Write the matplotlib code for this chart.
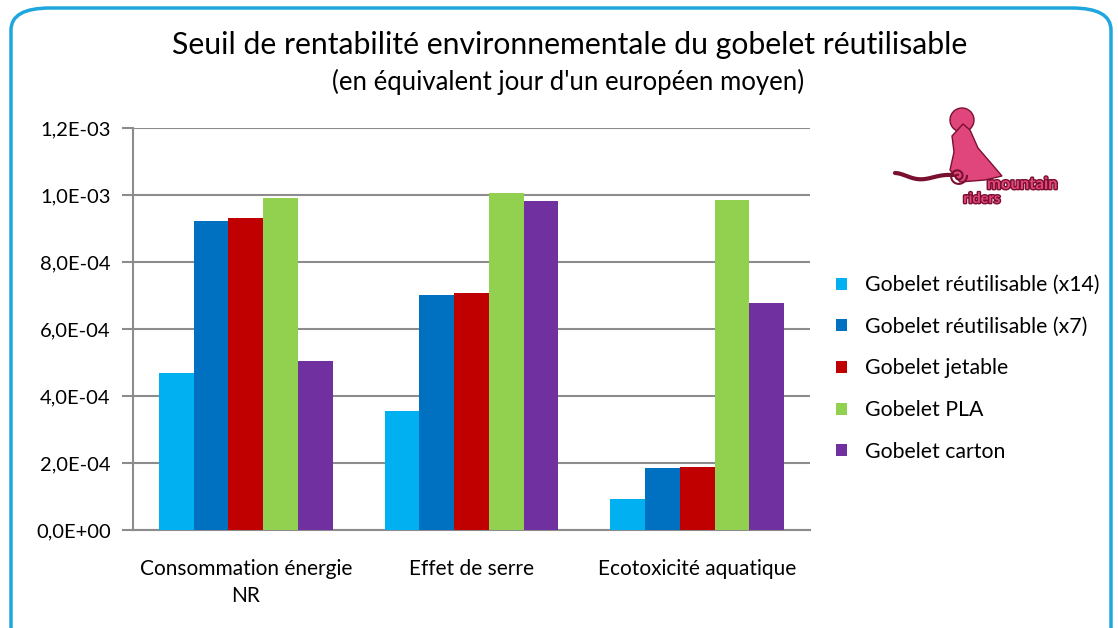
import matplotlib
matplotlib.use('Agg')
import matplotlib.pyplot as plt
import matplotlib.patheffects as pe
from matplotlib.patches import FancyBboxPatch, Circle, Polygon
from matplotlib.ticker import FuncFormatter
import numpy as np

# ── DATA ──────────────────────────────────────────────────────────────────────
categories = ["Consommation énergie\nNR", "Effet de serre", "Ecotoxicité aquatique"]
series_names = ["Gobelet réutilisable (x14)", "Gobelet réutilisable (x7)",
                "Gobelet jetable", "Gobelet PLA", "Gobelet carton"]
reutil_x14 = [4.70e-4, 3.55e-4, 0.93e-4]
reutil_x7 = [9.22e-4, 7.01e-4, 1.84e-4]
jetable = [9.32e-4, 7.06e-4, 1.88e-4]
pla = [9.90e-4, 10.07e-4, 9.85e-4]
carton = [5.03e-4, 9.83e-4, 6.79e-4]
colors = ['#00b0f0', '#0070c0', '#c00000', '#92d050', '#7030a0']

plt.rcParams['font.family'] = ['Lato', 'DejaVu Sans']

W, H = 1118, 628
fig = plt.figure(figsize=(W / 100, H / 100), dpi=100)

# rounded blue frame (bottom edge runs off the picture)
frame = FancyBboxPatch((11 / W, -30 / H), (1100 / W), (650 / H),
                       boxstyle="round,pad=0,rounding_size=0.035",
                       transform=fig.transFigure, fill=False,
                       edgecolor='#1ea6df', linewidth=2.5)
fig.patches.append(frame)

ax = fig.add_axes([133 / W, 1 - 530 / H, (810 - 133) / W, (530 - 128) / H])

all_series = [reutil_x14, reutil_x7, jetable, pla, carton]
x = np.arange(len(categories))
bw = 0.154
for i, (vals, name, c) in enumerate(zip(all_series, series_names, colors)):
    ax.bar(x + (i - 2) * bw, vals, width=bw, color=c, label=name, zorder=3)

ax.set_xlim(-0.5, 2.5)
ax.set_ylim(0, 1.2e-3)
ax.set_yticks(np.arange(0, 1.21e-3, 0.2e-3))
ax.yaxis.set_major_formatter(FuncFormatter(
    lambda v, p: f"{v:.1E}".replace('.', ',')))
ax.grid(axis='y', color='#8c8c8c', linewidth=1.5, zorder=0)
for s in ['top', 'right']:
    ax.spines[s].set_visible(False)
for s in ['left', 'bottom']:
    ax.spines[s].set_color('#8c8c8c')
    ax.spines[s].set_linewidth(1.5)
ax.tick_params(axis='y', length=8, width=1.5, color='#8c8c8c',
               labelsize=14.5, pad=8)
ax.tick_params(axis='x', length=0, labelsize=15, pad=21)
ax.set_xticks(x)
ax.set_xticklabels(categories, linespacing=1.45)

fig.text(570 / W, 1 - 45 / H, "Seuil de rentabilité environnementale du gobelet réutilisable",
         ha='center', va='center', fontsize=21.7)
fig.text(568 / W, 1 - 82 / H, "(en équivalent jour d'un européen moyen)",
         ha='center', va='center', fontsize=18.5)

leg = fig.legend(loc='upper left', bbox_to_anchor=(817 / W, 1 - 256 / H),
                 frameon=False, fontsize=15.3, handlelength=0.5, handleheight=0.5,
                 handletextpad=0.85, labelspacing=1.02)

# ── LOGO (simplified "mountain riders") ───────────────────────────────────────
lg = fig.add_axes([890 / W, 1 - 215 / H, 195 / W, 115 / H])
lg.set_xlim(0, 195)
lg.set_ylim(115, 0)
lg.axis('off')
pink = '#e0457b'
dark = '#7a1030'
lg.add_patch(Circle((72, 20), 12, facecolor=pink, edgecolor=dark, lw=1))
lg.add_patch(Polygon([[73, 24], [80, 30], [88, 48], [100, 62], [112, 76],
                      [95, 80], [70, 82], [60, 70], [64, 52], [62, 36]],
                     facecolor=pink, edgecolor=dark, lw=1, zorder=2))
t = np.linspace(0, 1, 60)
lg.plot(5 + 60 * t, 73 + 10 * np.sin(np.pi * t) ** 2 * (1 - t) + 2 * t,
        color=dark, lw=3, solid_capstyle='round', zorder=1)
ang = np.linspace(0, 3.5 * np.pi, 80)
rad = 9 * (1 - ang / (4 * np.pi))
lg.plot(68 + rad * np.cos(ang), 76 + rad * np.sin(ang), color=dark, lw=1.5, zorder=3)
lg.text(132, 84, "mountain", ha='center', va='center', fontsize=12,
        fontweight='bold', color=pink,
        path_effects=[pe.withStroke(linewidth=2, foreground=dark)])
lg.text(92, 99, "riders", ha='center', va='center', fontsize=10.5,
        fontweight='bold', color=pink,
        path_effects=[pe.withStroke(linewidth=2, foreground=dark)])

fig.savefig('out.png', dpi=100)
